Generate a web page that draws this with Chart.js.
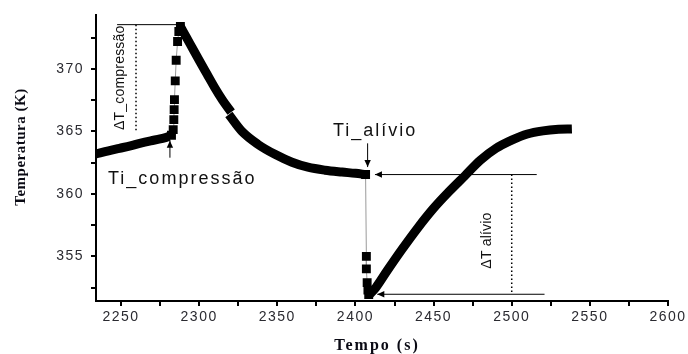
<!DOCTYPE html>
<html>
<head>
<meta charset="utf-8">
<script src="https://cdn.jsdelivr.net/npm/chart.js@4.4.1/dist/chart.umd.min.js"></script>
<style>
  html, body { margin: 0; padding: 0; background: #fff; }
  #wrap { width: 688px; height: 354px; }
</style>
</head>
<body>
<div id="wrap"><canvas id="myChart" width="688" height="354"></canvas></div>
<script>
// curva antes da compressão
const preTime = [2234, 2242, 2249, 2256, 2262, 2269, 2275, 2281];
const preTemp = [363.2, 363.45, 363.65, 363.85, 364.05, 364.25, 364.4, 364.6];

// pontos do salto de compressão
const compTime = [2282.3, 2283.4, 2283.8, 2284.0, 2284.2, 2284.7, 2285.3, 2286.2, 2287.0, 2288.0];
const compTemp = [364.7, 365.15, 365.95, 366.75, 367.55, 369.05, 370.7, 372.2, 373.0, 373.4];

// resfriamento (duas partes, com pequena falha perto de 2320 s)
const decayTime1 = [2288, 2292, 2296, 2300, 2305, 2310, 2315, 2320.5];
const decayTemp1 = [373.4, 372.5, 371.6, 370.7, 369.6, 368.5, 367.5, 366.55];
const decayTime2 = [2319, 2327.4, 2337.6, 2348.5, 2359.4, 2369.6, 2380.5, 2391.4, 2400, 2406.5];
const decayTemp2 = [366.35, 365.0, 363.97, 363.17, 362.54, 362.14, 361.9, 361.75, 361.65, 361.55];

// pontos da queda no alívio
const dropTime = [2406.5, 2407, 2407, 2407.5, 2408, 2408.5];
const dropTemp = [361.55, 355.0, 354.0, 352.9, 352.3, 351.95];

// aquecimento depois do alívio
const riseTime = [2409, 2413, 2420, 2430, 2440, 2450, 2460, 2470, 2480, 2490, 2500, 2510, 2520, 2530, 2538.5];
const riseTemp = [351.95, 352.5, 353.8, 355.6, 357.3, 358.85, 360.2, 361.45, 362.7, 363.65, 364.3, 364.8, 365.05, 365.17, 365.2];

// eixos
const xMin = 2234, xMax = 2600, xStep = 25, xLabelEvery = 50;
const yMin = 351.43, yMax = 374.29, yStep = 2.5, yLabelEvery = 5;

// anotações (em unidades dos dados)
const arrows = [
    { from: [2281.3, 362.9], to: [2281.3, 364.25] },
    { from: [2407.8, 364.05], to: [2407.8, 362.15] },
    { from: [2516, 361.55], to: [2412.5, 361.55] },
    { from: [2521, 351.97], to: [2414, 351.97] }
];
const plainLines = [
    { from: [2247.5, 373.55], to: [2287, 373.55] }
];
const dottedLines = [
    { from: [2259.6, 373.55], to: [2259.6, 364.9] },
    { from: [2500, 361.55], to: [2500, 351.97] }
];
const notes = [
    { text: 'ΔT_compressão', at: [2249.4, 369.3], rotate: true },
    { text: 'ΔT alívio', at: [2484.2, 356.27], rotate: true },
    { text: 'Ti_compressão', at: [2241.7, 361.19], rotate: false },
    { text: 'Ti_alívio', at: [2385.6, 365.0], rotate: false }
];

function toPoints(xs, ys) {
    return xs.map((t, i) => ({ x: t, y: ys[i] }));
}

function curve(xs, ys) {
    return {
        data: toPoints(xs, ys),
        borderColor: '#000',
        borderWidth: 9,
        borderCapStyle: 'butt',
        borderJoinStyle: 'round',
        cubicInterpolationMode: 'monotone',
        pointRadius: 0,
        order: 2
    };
}

function jump(xs, ys) {
    return {
        data: toPoints(xs, ys),
        showLine: true,
        borderColor: '#9a9a9a',
        borderWidth: 1,
        pointStyle: 'rect',
        pointRadius: 6.3,
        pointBorderWidth: 0,
        pointBackgroundColor: '#000',
        tension: 0,
        order: 1
    };
}

const annotate = {
    id: 'annotate',
    beforeDraw(chart) {
        chart.ctx.letterSpacing = '1.5px';
    },
    afterDatasetsDraw(chart) {
        const { ctx, scales: { x, y } } = chart;
        const px = t => x.getPixelForValue(t);
        const py = v => y.getPixelForValue(v);
        ctx.save();
        ctx.strokeStyle = '#000';
        ctx.fillStyle = '#000';

        ctx.lineWidth = 1;
        plainLines.concat(arrows).forEach(l => {
            ctx.beginPath();
            ctx.moveTo(px(l.from[0]), py(l.from[1]));
            ctx.lineTo(px(l.to[0]), py(l.to[1]));
            ctx.stroke();
        });

        // pontas das setas
        arrows.forEach(a => {
            const x1 = px(a.from[0]), y1 = py(a.from[1]);
            const x2 = px(a.to[0]), y2 = py(a.to[1]);
            const ang = Math.atan2(y2 - y1, x2 - x1);
            const len = 7, half = 3.2;
            ctx.beginPath();
            ctx.moveTo(x2, y2);
            ctx.lineTo(x2 - len * Math.cos(ang) + half * Math.sin(ang), y2 - len * Math.sin(ang) - half * Math.cos(ang));
            ctx.lineTo(x2 - len * Math.cos(ang) - half * Math.sin(ang), y2 - len * Math.sin(ang) + half * Math.cos(ang));
            ctx.closePath();
            ctx.fill();
        });

        ctx.lineWidth = 1.5;
        ctx.setLineDash([1.5, 2.5]);
        dottedLines.forEach(l => {
            ctx.beginPath();
            ctx.moveTo(px(l.from[0]), py(l.from[1]));
            ctx.lineTo(px(l.to[0]), py(l.to[1]));
            ctx.stroke();
        });
        ctx.setLineDash([]);

        ctx.fillStyle = '#111';
        notes.forEach(n => {
            ctx.save();
            ctx.translate(px(n.at[0]), py(n.at[1]));
            if (n.rotate) {
                ctx.rotate(-Math.PI / 2);
                ctx.letterSpacing = '0.2px';
                ctx.font = '14px "Liberation Sans", Arial, sans-serif';
                ctx.textAlign = 'center';
            } else {
                ctx.letterSpacing = '2px';
                ctx.font = '18px "Liberation Sans", Arial, sans-serif';
                ctx.textAlign = 'left';
            }
            ctx.textBaseline = 'middle';
            ctx.fillText(n.text, 0, 0);
            ctx.restore();
        });

        // títulos dos eixos
        ctx.fillStyle = '#0a0a14';
        ctx.font = 'bold 15px "Liberation Serif", "Times New Roman", serif';
        ctx.letterSpacing = '0.5px';
        ctx.textAlign = 'center';
        ctx.textBaseline = 'middle';
        ctx.save();
        ctx.translate(21, 147);
        ctx.rotate(-Math.PI / 2);
        ctx.fillText('Temperatura (K)', 0, 0);
        ctx.restore();
        ctx.letterSpacing = '2px';
        ctx.font = 'bold 16px "Liberation Serif", "Times New Roman", serif';
        ctx.fillText('Tempo (s)', 377, 346);
        ctx.restore();
    }
};

const tickFont = { family: '"Liberation Sans", Arial, sans-serif', size: 14 };

const chart = new Chart(document.getElementById('myChart').getContext('2d'), {
    type: 'line',
    data: {
        datasets: [
            curve(preTime, preTemp),
            jump(compTime, compTemp),
            curve(decayTime1, decayTemp1),
            curve(decayTime2, decayTemp2),
            jump(dropTime, dropTemp),
            curve(riseTime, riseTemp)
        ]
    },
    options: {
        responsive: false,
        animation: false,
        events: [],
        layout: { padding: { left: 0, top: 13, right: 20, bottom: 0 } },
        plugins: { legend: { display: false }, tooltip: { enabled: false } },
        scales: {
            x: {
                type: 'linear',
                min: xMin,
                max: xMax,
                border: { color: '#000', width: 2 },
                grid: { drawOnChartArea: false, drawTicks: true, tickLength: 5, color: '#000', lineWidth: 2 },
                ticks: {
                    stepSize: xStep,
                    includeBounds: false,
                    autoSkip: false,
                    maxRotation: 0,
                    padding: 3,
                    color: '#2a2a30',
                    font: tickFont,
                    callback: v => (v % xLabelEvery === 0 ? String(v) : '')
                },
                afterFit: s => { s.height = 53; }
            },
            y: {
                type: 'linear',
                min: yMin,
                max: yMax,
                border: { color: '#000', width: 2 },
                grid: { drawOnChartArea: false, drawTicks: true, tickLength: 5, color: '#000', lineWidth: 2 },
                ticks: {
                    stepSize: yStep,
                    includeBounds: false,
                    autoSkip: false,
                    padding: 7,
                    color: '#2a2a30',
                    font: tickFont,
                    callback: v => (Math.abs(v % yLabelEvery) < 1e-6 ? String(v) : '')
                },
                afterFit: s => { s.width = 96; }
            }
        }
    },
    plugins: [annotate]
});
</script>
</body>
</html>
